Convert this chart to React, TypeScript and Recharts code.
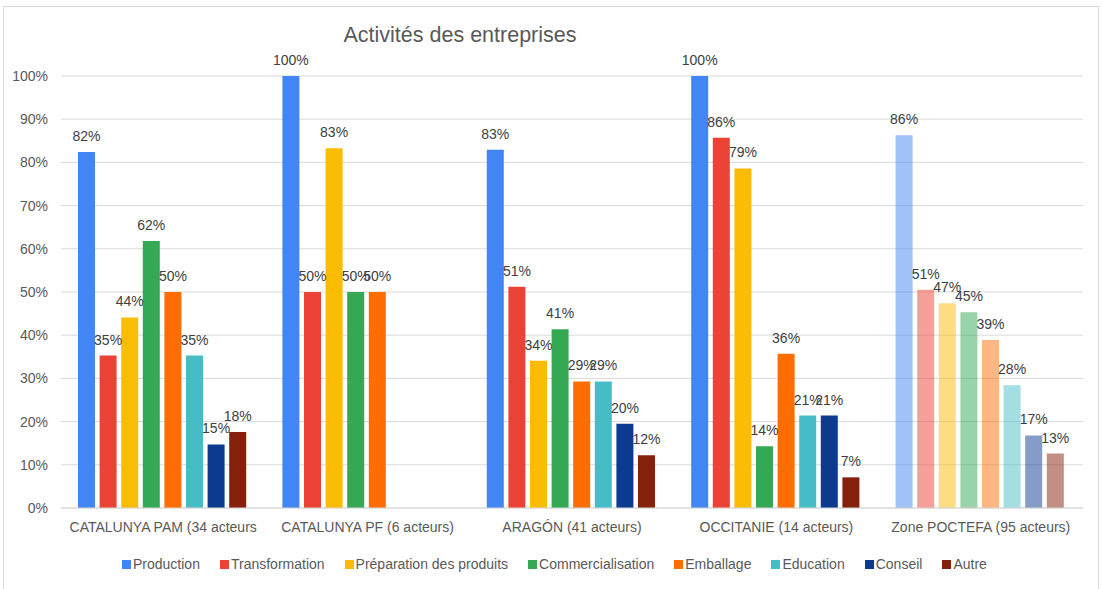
import { BarChart, Bar, XAxis, YAxis, CartesianGrid, Cell, LabelList } from 'recharts';

const categories = [
  'CATALUNYA PAM (34 acteurs',
  'CATALUNYA PF (6 acteurs)',
  'ARAGÓN (41 acteurs)',
  'OCCITANIE (14 acteurs)',
  'Zone POCTEFA (95 acteurs)',
];

// values in %, one entry per category
const production = [82.4, 100, 82.9, 100, 86.3];
const transformation = [35.3, 50, 51.2, 85.7, 50.5];
const preparation = [44.1, 83.3, 34.1, 78.6, 47.4];
const commercialisation = [61.8, 50, 41.4, 14.3, 45.3];
const emballage = [50, 50, 29.3, 35.7, 38.9];
const education = [35.3, null, 29.3, 21.4, 28.4];
const conseil = [14.7, null, 19.5, 21.4, 16.8];
const autre = [17.6, null, 12.2, 7.1, 12.6];

const yTicks = [0, 10, 20, 30, 40, 50, 60, 70, 80, 90, 100];

const SERIES = [
  { key: 'Production', values: production, color: '#4285f4' },
  { key: 'Transformation', values: transformation, color: '#ea4335' },
  { key: 'Préparation des produits', values: preparation, color: '#fbbc04' },
  { key: 'Commercialisation', values: commercialisation, color: '#34a853' },
  { key: 'Emballage', values: emballage, color: '#ff6d01' },
  { key: 'Education', values: education, color: '#46bdc6' },
  { key: 'Conseil', values: conseil, color: '#0b3a8f' },
  { key: 'Autre', values: autre, color: '#85200c' },
];

const data = categories.map((name, i) => {
  const row: Record<string, string | number | null> = { name };
  SERIES.forEach((s) => (row[s.key] = s.values[i]));
  return row;
});

const FONT = '"Liberation Sans", Arial, sans-serif';

function Legend() {
  return (
    <div
      style={{
        position: 'absolute',
        top: 556,
        left: 122,
        display: 'flex',
        fontFamily: FONT,
        fontSize: 14,
        color: '#595959',
        whiteSpace: 'nowrap',
      }}
    >
      {SERIES.map((s) => (
        <div key={s.key} style={{ display: 'flex', alignItems: 'center', marginRight: 20 }}>
          <span style={{ width: 9, height: 9, background: s.color, marginRight: 2 }} />
          <span>{s.key}</span>
        </div>
      ))}
    </div>
  );
}

export default function App() {
  return (
    <div style={{ position: 'fixed', left: 0, top: 0, width: 1102, height: 589, overflow: 'hidden', background: '#fff' }}>
      <div
        style={{
          position: 'absolute',
          left: 3,
          top: 6,
          width: 1094,
          height: 620,
          border: '1px solid #d9d9d9',
        }}
      />
      <div
        style={{
          position: 'absolute',
          top: 23,
          left: 0,
          width: 920,
          textAlign: 'center',
          fontFamily: FONT,
          fontSize: 21.5,
          color: '#595959',
        }}
      >
        Activités des entreprises
      </div>
      <div style={{ position: 'absolute', left: 0, top: 0 }}>
        <BarChart
          width={1102}
          height={589}
          data={data}
          margin={{ top: 76, right: 19, left: 0, bottom: 51 }}
          barCategoryGap={17}
          barGap={4.6}
        >
          <CartesianGrid vertical={false} stroke="#d9d9d9" />
          <XAxis
            dataKey="name"
            height={30}
            tickLine={false}
            axisLine={{ stroke: '#d9d9d9' }}
            tickMargin={8}
            interval={0}
            tick={{ fill: '#595959', fontSize: 14, fontFamily: FONT }}
          />
          <YAxis
            width={61}
            domain={[0, 100]}
            ticks={yTicks}
            axisLine={false}
            tickLine={false}
            tickMargin={7}
            tickFormatter={(v) => `${v}%`}
            tick={{ fill: '#595959', fontSize: 14, fontFamily: FONT }}
          />
          {SERIES.map((s) => (
            <Bar key={s.key} dataKey={s.key} fill={s.color} isAnimationActive={false}>
              {data.map((_, i) => (
                <Cell key={i} fill={s.color} fillOpacity={i === categories.length - 1 ? 0.5 : 1} />
              ))}
              <LabelList
                dataKey={s.key}
                position="top"
                offset={11}
                formatter={(v: any) => (v == null ? '' : `${Math.round(v)}%`)}
                style={{ fill: '#404040', fontSize: 14, fontFamily: FONT }}
              />
            </Bar>
          ))}
        </BarChart>
      </div>
      <Legend />
    </div>
  );
}
